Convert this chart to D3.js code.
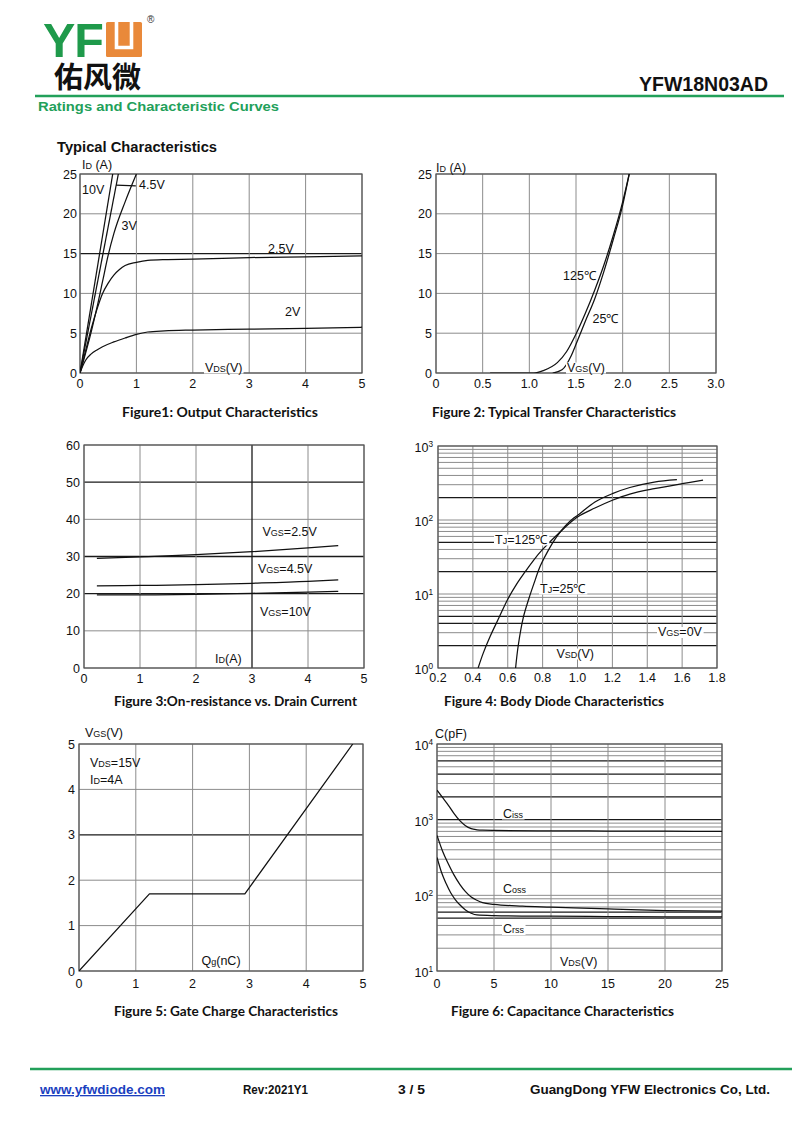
<!DOCTYPE html>
<html><head><meta charset="utf-8">
<script src="https://cdn.jsdelivr.net/npm/d3@7"></script>
<style>body{margin:0;background:#fff}svg{display:block}</style>
</head><body>
<svg id="page" width="800" height="1130"></svg>
<script>
// ---------------- DATA ----------------
// Figure 1: Output characteristics (VDS [V], ID [A])
const fig1XTicks = [0,1,2,3,4,5];
const fig1YTicks = [0,5,10,15,20,25];
const fig1_10V  = [[0,0],[0.58,25]];
const fig1_45V  = [[0,0],[0.68,25]];
const fig1_3V   = [[0,0],[0.2,5.2],[0.3,8.2],[0.4,11.5],[0.5,14.8],[0.6,17.5],[0.8,21.5],[1.0,25]];
const fig1_25V  = [[0,0],[0.1,2.8],[0.2,5.6],[0.3,8],[0.4,10],[0.5,11.3],[0.6,12.3],[0.7,13],[0.8,13.5],[1,13.9],[1.2,14.15],[1.5,14.25],[2,14.3],[3,14.5],[4,14.6],[5,14.7]];
const fig1_2V   = [[0,0],[0.05,0.9],[0.1,1.6],[0.2,2.4],[0.3,2.9],[0.4,3.3],[0.6,3.9],[0.8,4.4],[1,4.85],[1.2,5.15],[1.5,5.3],[2,5.4],[3,5.5],[4,5.62],[5,5.75]];

// Figure 2: Transfer characteristics (VGS [V], ID [A])
const fig2XTicks = [0,0.5,1.0,1.5,2.0,2.5,3.0];
const fig2XLabels = ["0","0.5","1.0","1.5","2.0","2.5","3.0"];
const fig2YTicks = [0,5,10,15,20,25];
const fig2_125C = [[0.58,0],[1.05,0],[1.15,0.3],[1.3,1.3],[1.4,2.7],[1.5,4.9],[1.6,7.5],[1.7,10.4],[1.8,13.6],[1.9,17.3],[2.0,21.5],[2.07,25]];
const fig2_25C  = [[1.25,0],[1.35,0.4],[1.45,2.2],[1.5,3.6],[1.6,6.5],[1.7,9.3],[1.8,12.8],[1.9,16.8],[2.0,21.1],[2.07,25]];

// Figure 3: On-resistance vs drain current (ID [A], RDS(on) [mOhm])
const fig3XTicks = [0,1,2,3,4,5];
const fig3YTicks = [0,10,20,30,40,50,60];
const fig3_25V = [[0.23,29.5],[1,29.9],[2,30.5],[3,31.3],[4,32.3],[4.54,32.9]];
const fig3_45V = [[0.23,22.1],[1,22.2],[2,22.4],[3,22.8],[4,23.3],[4.54,23.7]];
const fig3_10V = [[0.23,19.7],[1,19.7],[2,19.8],[3,20.1],[4,20.4],[4.54,20.6]];

// Figure 4: Body diode characteristics (VSD [V], IS [A], log)
const fig4XTicks = [0.2,0.4,0.6,0.8,1.0,1.2,1.4,1.6,1.8];
const fig4XLabels = ["0.2","0.4","0.6","0.8","1.0","1.2","1.4","1.6","1.8"];
const fig4Decades = [1,10,100,1000];
const fig4DecadeExp = ["0","1","2","3"];
const fig4_125C = [[0.43,1],[0.46,1.6],[0.5,2.7],[0.55,4.8],[0.6,8.5],[0.65,13.5],[0.7,20],[0.75,29],[0.8,40],[0.9,69],[1.0,110],[1.1,145],[1.2,185],[1.3,224],[1.44,265],[1.6,310],[1.72,345]];
const fig4_25C  = [[0.645,1],[0.66,2],[0.69,4.9],[0.72,8.5],[0.75,13.8],[0.787,24],[0.83,38],[0.88,59],[0.93,83],[0.98,107],[1.0,115],[1.1,175],[1.2,227],[1.3,275],[1.44,326],[1.57,351]];

// Figure 5: Gate charge (Qg [nC], VGS [V])
const fig5XTicks = [0,1,2,3,4,5];
const fig5YTicks = [0,1,2,3,4,5];
const fig5_VGS = [[0,0],[1.24,1.7],[2.92,1.7],[4.82,5]];

// Figure 6: Capacitance (VDS [V], C [pF], log)
const fig6XTicks = [0,5,10,15,20,25];
const fig6Decades = [10,100,1000,10000];
const fig6DecadeExp = ["1","2","3","4"];
const fig6_Ciss = [[0,2450],[0.5,1950],[1,1550],[1.5,1200],[2,970],[2.5,830],[3,760],[3.5,735],[4,725],[5,720],[10,712],[15,708],[20,704],[25,700]];
const fig6_Coss = [[0,620],[0.5,380],[1,260],[1.5,185],[2,140],[2.5,112],[3,95],[3.5,86],[4,80],[5,76],[7.5,72],[10,70],[15,66],[20,63],[25,62]];
const fig6_Crss = [[0,316],[0.4,200],[0.8,143],[1.2,108],[1.6,88],[2,75],[2.5,64],[3,58],[3.5,55],[5,54],[10,53],[15,52.5],[20,52],[25,52]];

// ---------------- DRAWING ----------------
const svg = d3.select("#page");
const FONT = "'Liberation Sans', Arial, sans-serif";
const GRID = "#8c8c8c", DARK = "#1a1a1a", INK = "#111";
const GREEN = "#22a05a", LOGO_GREEN = "#1f9a4b", ORANGE = "#e9893a";

function rich(sel, x, y, str, size, opts = {}) {
  const t = sel.append("text").attr("x", x).attr("y", y)
    .attr("font-family", opts.family || FONT).attr("font-size", size)
    .attr("fill", opts.fill || INK)
    .attr("text-anchor", opts.anchor || "start");
  if (opts.weight) t.attr("font-weight", opts.weight);
  let shift = 0;
  str.split(/(_\{[^}]*\}|\^\{[^}]*\})/).filter(s => s).forEach(s => {
    if (s.startsWith("_{")) {
      const ts = t.append("tspan").attr("font-size", size * 0.72).text(s.slice(2, -1));
      if (shift) { ts.attr("dy", shift); shift = 0; }
    } else if (s.startsWith("^{")) {
      t.append("tspan").attr("font-size", size * 0.66).attr("dy", -size * 0.42).text(s.slice(2, -1));
      shift = size * 0.42;
    } else {
      const ts = t.append("tspan").text(s);
      if (shift) { ts.attr("dy", shift); shift = 0; }
    }
  });
  if (opts.bg) {
    const b = t.node().getBBox();
    sel.insert("rect", () => t.node())
      .attr("x", b.x - 1).attr("y", b.y + 2).attr("width", b.width + 2).attr("height", b.height - 3)
      .attr("fill", "#fff");
  }
  return t;
}

let clipId = 0;
function chart(o) {
  const g = svg.append("g");
  const x = (o.xlog ? d3.scaleLog() : d3.scaleLinear()).domain(o.xd).range([o.l, o.r]);
  const y = (o.ylog ? d3.scaleLog() : d3.scaleLinear()).domain(o.yd).range([o.b, o.t]);
  o.hgrid.forEach(v => {
    const dark = (o.hdark || []).includes(v);
    g.append("line").attr("x1", o.l).attr("x2", o.r).attr("y1", y(v)).attr("y2", y(v))
      .attr("stroke", dark ? DARK : GRID).attr("stroke-width", dark ? 1.3 : 1);
  });
  o.vgrid.forEach(v => {
    const dark = (o.vdark || []).includes(v);
    g.append("line").attr("y1", o.t).attr("y2", o.b).attr("x1", x(v)).attr("x2", x(v))
      .attr("stroke", dark ? DARK : GRID).attr("stroke-width", dark ? 1.3 : 1);
  });
  g.append("rect").attr("x", o.l).attr("y", o.t).attr("width", o.r - o.l).attr("height", o.b - o.t)
    .attr("fill", "none").attr("stroke", "#555").attr("stroke-width", 1.2);
  o.xticks.forEach((v, i) => {
    g.append("text").attr("x", x(v)).attr("y", o.xlabY).attr("text-anchor", "middle")
      .attr("font-family", FONT).attr("font-size", 12.5).attr("fill", INK)
      .text(o.xlabels ? o.xlabels[i] : String(v));
  });
  o.yticks.forEach((v, i) => {
    rich(g, o.ylabR, y(v) + (o.ylabDy || 4.5), o.ylabels ? o.ylabels[i] : String(v), 12.5, { anchor: "end" });
  });
  const id = "clip" + (clipId++);
  g.append("clipPath").attr("id", id).append("rect")
    .attr("x", o.l).attr("y", o.t).attr("width", o.r - o.l).attr("height", o.b - o.t);
  const line = d3.line().x(d => x(d[0])).y(d => y(d[1])).curve(o.curve || d3.curveMonotoneX);
  const cg = g.append("g").attr("clip-path", `url(#${id})`);
  o.series.forEach(s => {
    cg.append("path").attr("d", line(s)).attr("fill", "none").attr("stroke", INK)
      .attr("stroke-width", 1.25).attr("stroke-linejoin", "round");
  });
  (o.labels || []).forEach(L => rich(g, L[0], L[1], L[2], L[3] || 12.5, { bg: L[4] }));
  return { g, x, y };
}

function logGrid(decades) {
  const out = [];
  for (let i = 0; i < decades.length - 1; i++)
    for (let k = 1; k <= 9; k++) out.push(k * decades[i]);
  out.push(decades[decades.length - 1]);
  return out;
}

// ---- Header ----
svg.append("text").attr("x", 43).attr("y", 57).attr("font-family", FONT).attr("font-weight", 700)
  .attr("font-size", 48.5).attr("fill", LOGO_GREEN).attr("letter-spacing", -1).text("YF");
svg.append("rect").attr("x", 106).attr("y", 22).attr("width", 36).attr("height", 35).attr("rx", 1.5).attr("fill", ORANGE);
svg.append("path").attr("d", "M116.5,22 V47.5 H131.5 V22").attr("fill", "none").attr("stroke", "#fff").attr("stroke-width", 3.6);
svg.append("text").attr("x", 147).attr("y", 23).attr("font-family", FONT).attr("font-size", 10).attr("fill", "#333").text("®");
svg.append("text").attr("x", 54).attr("y", 88).attr("font-family", "'Noto Sans CJK SC', sans-serif")
  .attr("font-weight", 700).attr("font-size", 29).attr("fill", "#111").text("佑风微");
svg.append("text").attr("x", 768).attr("y", 91).attr("text-anchor", "end").attr("font-family", FONT)
  .attr("font-weight", 700).attr("font-size", 19.5).attr("fill", "#111").text("YFW18N03AD");
svg.append("line").attr("x1", 35).attr("x2", 784).attr("y1", 96).attr("y2", 96).attr("stroke", GREEN).attr("stroke-width", 2.6);
svg.append("text").attr("x", 38).attr("y", 111).attr("font-family", FONT).attr("font-weight", 700)
  .attr("font-size", 13.5).attr("fill", GREEN).attr("textLength", 241).attr("lengthAdjust", "spacingAndGlyphs")
  .text("Ratings and Characteristic Curves");
svg.append("text").attr("x", 57).attr("y", 152).attr("font-family", FONT).attr("font-weight", 700)
  .attr("font-size", 14).attr("fill", "#111").attr("textLength", 160).attr("lengthAdjust", "spacingAndGlyphs")
  .text("Typical Characteristics");

// ---- Figure 1 ----
const c1 = chart({
  l: 80, r: 362, t: 174, b: 373, xd: [0, 5], yd: [0, 25],
  hgrid: fig1YTicks, vgrid: fig1XTicks, hdark: [15],
  xticks: fig1XTicks, yticks: fig1YTicks, xlabY: 388, ylabR: 77,
  series: [fig1_10V, fig1_45V, fig1_3V, fig1_25V, fig1_2V],
  labels: [[82, 169, "I_{D} (A)", 12.5], [82, 194, "10V"], [139, 189, "4.5V"], [121.5, 230, "3V"],
           [268, 252.5, "2.5V"], [285, 316, "2V"], [205, 371.5, "V_{DS}(V)", 12.5, true]]
});
c1.g.append("line").attr("x1", c1.x(0.64)).attr("x2", c1.x(0.99)).attr("y1", c1.y(23.6)).attr("y2", c1.y(23.5))
  .attr("stroke", INK).attr("stroke-width", 1.2);

// ---- Figure 2 ----
chart({
  l: 436, r: 716, t: 174, b: 373, xd: [0, 3], yd: [0, 25],
  hgrid: fig2YTicks, vgrid: fig2XTicks,
  xticks: fig2XTicks, xlabels: fig2XLabels, yticks: fig2YTicks, xlabY: 388, ylabR: 432,
  series: [fig2_125C, fig2_25C],
  labels: [[436, 172, "I_{D} (A)"], [563, 279.5, "125℃"], [592.5, 323, "25℃"], [567, 371.5, "V_{GS}(V)", 12.5, true]]
});

// ---- Figure 3 ----
chart({
  l: 84, r: 364, t: 445, b: 668, xd: [0, 5], yd: [0, 60],
  hgrid: fig3YTicks, vgrid: fig3XTicks, hdark: [20, 30, 50], vdark: [3],
  xticks: fig3XTicks, yticks: fig3YTicks, xlabY: 683, ylabR: 80,
  series: [fig3_25V, fig3_45V, fig3_10V],
  labels: [[262.5, 535.5, "V_{GS}=2.5V"], [258, 572.5, "V_{GS}=4.5V"], [260, 615.5, "V_{GS}=10V"], [215, 663, "I_{D}(A)"]]
});

// ---- Figure 4 ----
chart({
  l: 438, r: 717, t: 446, b: 668, xd: [0.2, 1.8], yd: [1, 1000], ylog: true,
  hgrid: logGrid(fig4Decades), vgrid: fig4XTicks, hdark: [2, 4, 5, 20, 50, 200],
  xticks: fig4XTicks, xlabels: fig4XLabels, yticks: fig4Decades,
  ylabels: fig4DecadeExp.map(e => "10^{" + e + "}"), xlabY: 682, ylabR: 433, ylabDy: 6,
  series: [fig4_125C, fig4_25C], curve: d3.curveCatmullRom.alpha(0.5),
  labels: [[495, 543.5, "T_{J}=125℃", 12.5, true], [540, 592.5, "T_{J}=25℃", 12.5, true],
           [658, 636, "V_{GS}=0V", 12.5, true], [556.5, 657.5, "V_{SD}(V)", 12.5, true]]
});

// ---- Figure 5 ----
chart({
  l: 79, r: 363, t: 744, b: 971, xd: [0, 5], yd: [0, 5],
  hgrid: fig5YTicks, vgrid: fig5XTicks, hdark: [3],
  xticks: fig5XTicks, yticks: fig5YTicks, xlabY: 988, ylabR: 75,
  series: [fig5_VGS], curve: d3.curveLinear,
  labels: [[85, 736.5, "V_{GS}(V)"], [90, 766.5, "V_{DS}=15V"], [90, 783.5, "I_{D}=4A"], [201.5, 965, "Q_{g}(nC)"]]
});

// ---- Figure 6 ----
chart({
  l: 437, r: 722, t: 744, b: 971, xd: [0, 25], yd: [10, 10000], ylog: true,
  hgrid: logGrid(fig6Decades), vgrid: fig6XTicks, hdark: [50, 60, 1000, 2000, 4000, 6000],
  xticks: fig6XTicks, yticks: fig6Decades,
  ylabels: fig6DecadeExp.map(e => "10^{" + e + "}"), xlabY: 988, ylabR: 433, ylabDy: 6,
  series: [fig6_Ciss, fig6_Coss, fig6_Crss],
  labels: [[435, 738, "C(pF)"], [503, 817.5, "C_{iss}", 12.5, true], [503, 893, "C_{oss}", 12.5, true],
           [503, 933, "C_{rss}", 12.5, true], [560, 965.5, "V_{DS}(V)"]]
});

// ---- Captions ----
const captions = [
  ["Figure1: Output Characteristics", 122, 196, 416.5],
  ["Figure 2: Typical Transfer Characteristics", 432, 244, 416.5],
  ["Figure 3:On-resistance vs. Drain Current", 114, 243, 705.5],
  ["Figure 4: Body Diode Characteristics", 444, 220, 705.5],
  ["Figure 5: Gate Charge Characteristics", 114, 224, 1015.5],
  ["Figure 6: Capacitance Characteristics", 451, 223, 1015.5]
];
captions.forEach(c => svg.append("text").attr("x", c[1]).attr("y", c[3]).attr("font-family", "Lato, 'Open Sans', sans-serif")
  .attr("font-weight", 700).attr("font-size", 12.5).attr("fill", "#111")
  .attr("textLength", c[2]).attr("lengthAdjust", "spacingAndGlyphs").text(c[0]));

// ---- Footer ----
svg.append("line").attr("x1", 30).attr("x2", 792).attr("y1", 1069).attr("y2", 1069).attr("stroke", GREEN).attr("stroke-width", 2.6);
const footer = [
  ["www.yfwdiode.com", 40, 125, "#1b3fbf", true],
  ["Rev:2021Y1", 243, 65, "#111", false],
  ["3 / 5", 398, 27, "#111", false],
  ["GuangDong YFW Electronics Co, Ltd.", 530, 240, "#111", false]
];
footer.forEach(f => {
  svg.append("text").attr("x", f[1]).attr("y", 1094).attr("font-family", FONT).attr("font-weight", 700)
    .attr("font-size", 13).attr("fill", f[3]).attr("textLength", f[2]).attr("lengthAdjust", "spacingAndGlyphs")
    .attr("text-decoration", f[4] ? "underline" : null).text(f[0]);
});
</script>
</body></html>
